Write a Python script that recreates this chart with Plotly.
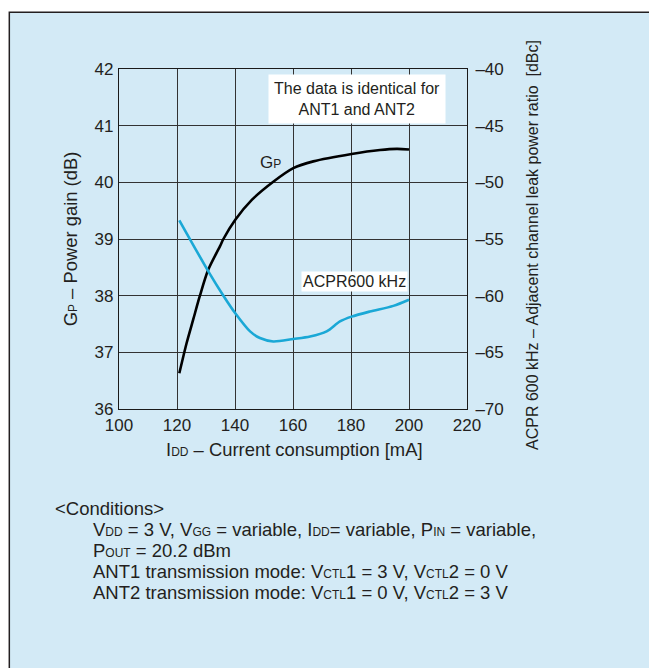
import plotly.graph_objects as go

# ---- data ----
gp_x = [120.8, 123.3, 125.6, 127.9, 130.8, 134.8, 136.0, 140.1, 145.8, 153.2, 160.1, 167.0, 180.2, 190.0, 195.8, 200.0]
gp_y = [36.63, 37.16, 37.58, 38.0, 38.46, 38.87, 39.0, 39.34, 39.69, 40.01, 40.25, 40.37, 40.50, 40.57, 40.59, 40.58]

acpr_x = [120.8, 130.8, 136.0, 140.1, 145.2, 148.6, 153.2, 160.1, 165.9, 171.6, 176.2, 180.2, 186.5, 194.6, 200.0]
acpr_y = [-53.35, -57.85, -60.0, -61.55, -63.15, -63.74, -64.04, -63.82, -63.6, -63.15, -62.27, -61.85, -61.4, -60.9, -60.36]

x_ticks = [100, 120, 140, 160, 180, 200, 220]
x_ticktext = ["100", "120", "140", "160", "180", "200", "220"]
y_ticks = [36, 37, 38, 39, 40, 41, 42]
y_ticktext = ["36", "37", "38", "39", "40", "41", "42"]
y2_ticks = [-70, -65, -60, -55, -50, -45, -40]
y2_ticktext = ["\u201370", "\u201365", "\u201360", "\u201355", "\u201350", "\u201345", "\u201340"]

FONT = "Liberation Sans, Arial, sans-serif"
TXT = "#231f20"
BG = "#d3eaf6"

def sm(s, size=11):
    return f'<span style="font-size:{size}px">{s}</span>'

fig = go.Figure()
fig.add_trace(go.Scatter(x=gp_x, y=gp_y, mode="lines", line=dict(color="#000000", width=2.6, shape="spline", smoothing=0.8),
                         showlegend=False, hoverinfo="skip"))
fig.add_trace(go.Scatter(x=acpr_x, y=acpr_y, yaxis="y2", mode="lines",
                         line=dict(color="#1aa8d6", width=2.6, shape="spline", smoothing=0.8),
                         showlegend=False, hoverinfo="skip"))

# page body has an 8px margin: figure origin sits at (8, 8) of the window
OFF = 8
W, H = 657 - OFF, 668 - OFF
L, R, T, B = 118.5 - OFF, 189.5, 69.3 - OFF, 258.7
pw = W - L - R
ph = H - T - B

def px(x):
    return (x - OFF - L) / pw

def py(y):
    return (H - B - (y - OFF)) / ph

fig.update_layout(
    width=W, height=H,
    margin=dict(l=L, r=R, t=T, b=B, pad=0),
    paper_bgcolor="white",
    plot_bgcolor="white",
    font=dict(family=FONT, color=TXT, size=16),
    xaxis=dict(range=[100, 220], tickvals=x_ticks, ticktext=x_ticktext, showgrid=True, gridcolor="#333333",
               gridwidth=1, showline=True, linecolor="#1a1a1a", linewidth=1.3, mirror=True, ticks="",
               tickfont=dict(size=17, color=TXT), zeroline=False),
    yaxis=dict(range=[36, 42], tickvals=y_ticks, ticktext=y_ticktext, showgrid=True, gridcolor="#333333",
               gridwidth=1, showline=True, linecolor="#1a1a1a", linewidth=1.3, mirror=True, ticks="outside",
               ticklen=1, tickcolor="rgba(0,0,0,0)", tickfont=dict(size=17, color=TXT), zeroline=False),
    yaxis2=dict(range=[-70, -40], tickvals=y2_ticks, ticktext=y2_ticktext, overlaying="y", side="right",
                showgrid=False, zeroline=False, showline=False, ticks="outside", ticklen=4,
                tickcolor="rgba(0,0,0,0)", tickfont=dict(size=17, color=TXT)),
    shapes=[dict(type="rect", xref="paper", yref="paper", x0=px(8.5), x1=px(720), y0=py(720), y1=py(12.5),
                 fillcolor=BG, line=dict(color="#231f20", width=1.5), layer="below")],
)

def A(text, x, y, **kw):
    d = dict(text=text, x=px(x), y=py(y), xref="paper", yref="paper", showarrow=False,
             xanchor="center", yanchor="middle", font=dict(size=16))
    d.update(kw)
    return d

ann = []
ann.append(A("The data is identical for<br>ANT1 and ANT2", 357, 99, bgcolor="white", borderpad=5))
ann.append(A("G" + sm("P", 12), 270, 163, font=dict(size=17)))
ann.append(A("ACPR600 kHz", 355, 282, bgcolor="white", borderpad=1))
ann.append(A("I" + sm("DD", 12) + " \u2013 Current consumption [mA]", 295, 450, font=dict(size=18.4)))
ann.append(A("G" + sm("P", 12) + " \u2013 Power gain (dB)", 70, 239, textangle=-90, font=dict(size=18.4)))
ann.append(A("ACPR 600 kHz \u2013 Adjacent channel leak power ratio\u00a0\u00a0[dBc]", 533, 245, textangle=-90))

cs = 12
cond_lines = [
    (52, 509.3, "&lt;Conditions&gt;"),
    (90.7, 530.0, "V" + sm("DD", cs) + " = 3 V, V" + sm("GG", cs) + " = variable, I" + sm("DD", cs) + "= variable, P" + sm("IN", cs) + " = variable,"),
    (90.7, 550.7, "P" + sm("OUT", cs) + " = 20.2 dBm"),
    (90.7, 571.7, "ANT1 transmission mode: V" + sm("CTL", cs) + "1 = 3 V, V" + sm("CTL", cs) + "2 = 0 V"),
    (90.7, 592.7, "ANT2 transmission mode: V" + sm("CTL", cs) + "1 = 0 V, V" + sm("CTL", cs) + "2 = 3 V"),
]
for xx, yy, t in cond_lines:
    ann.append(A(t, xx, yy, xanchor="left", font=dict(size=18.5)))

fig.update_layout(annotations=ann)
fig.write_html("out.html")
